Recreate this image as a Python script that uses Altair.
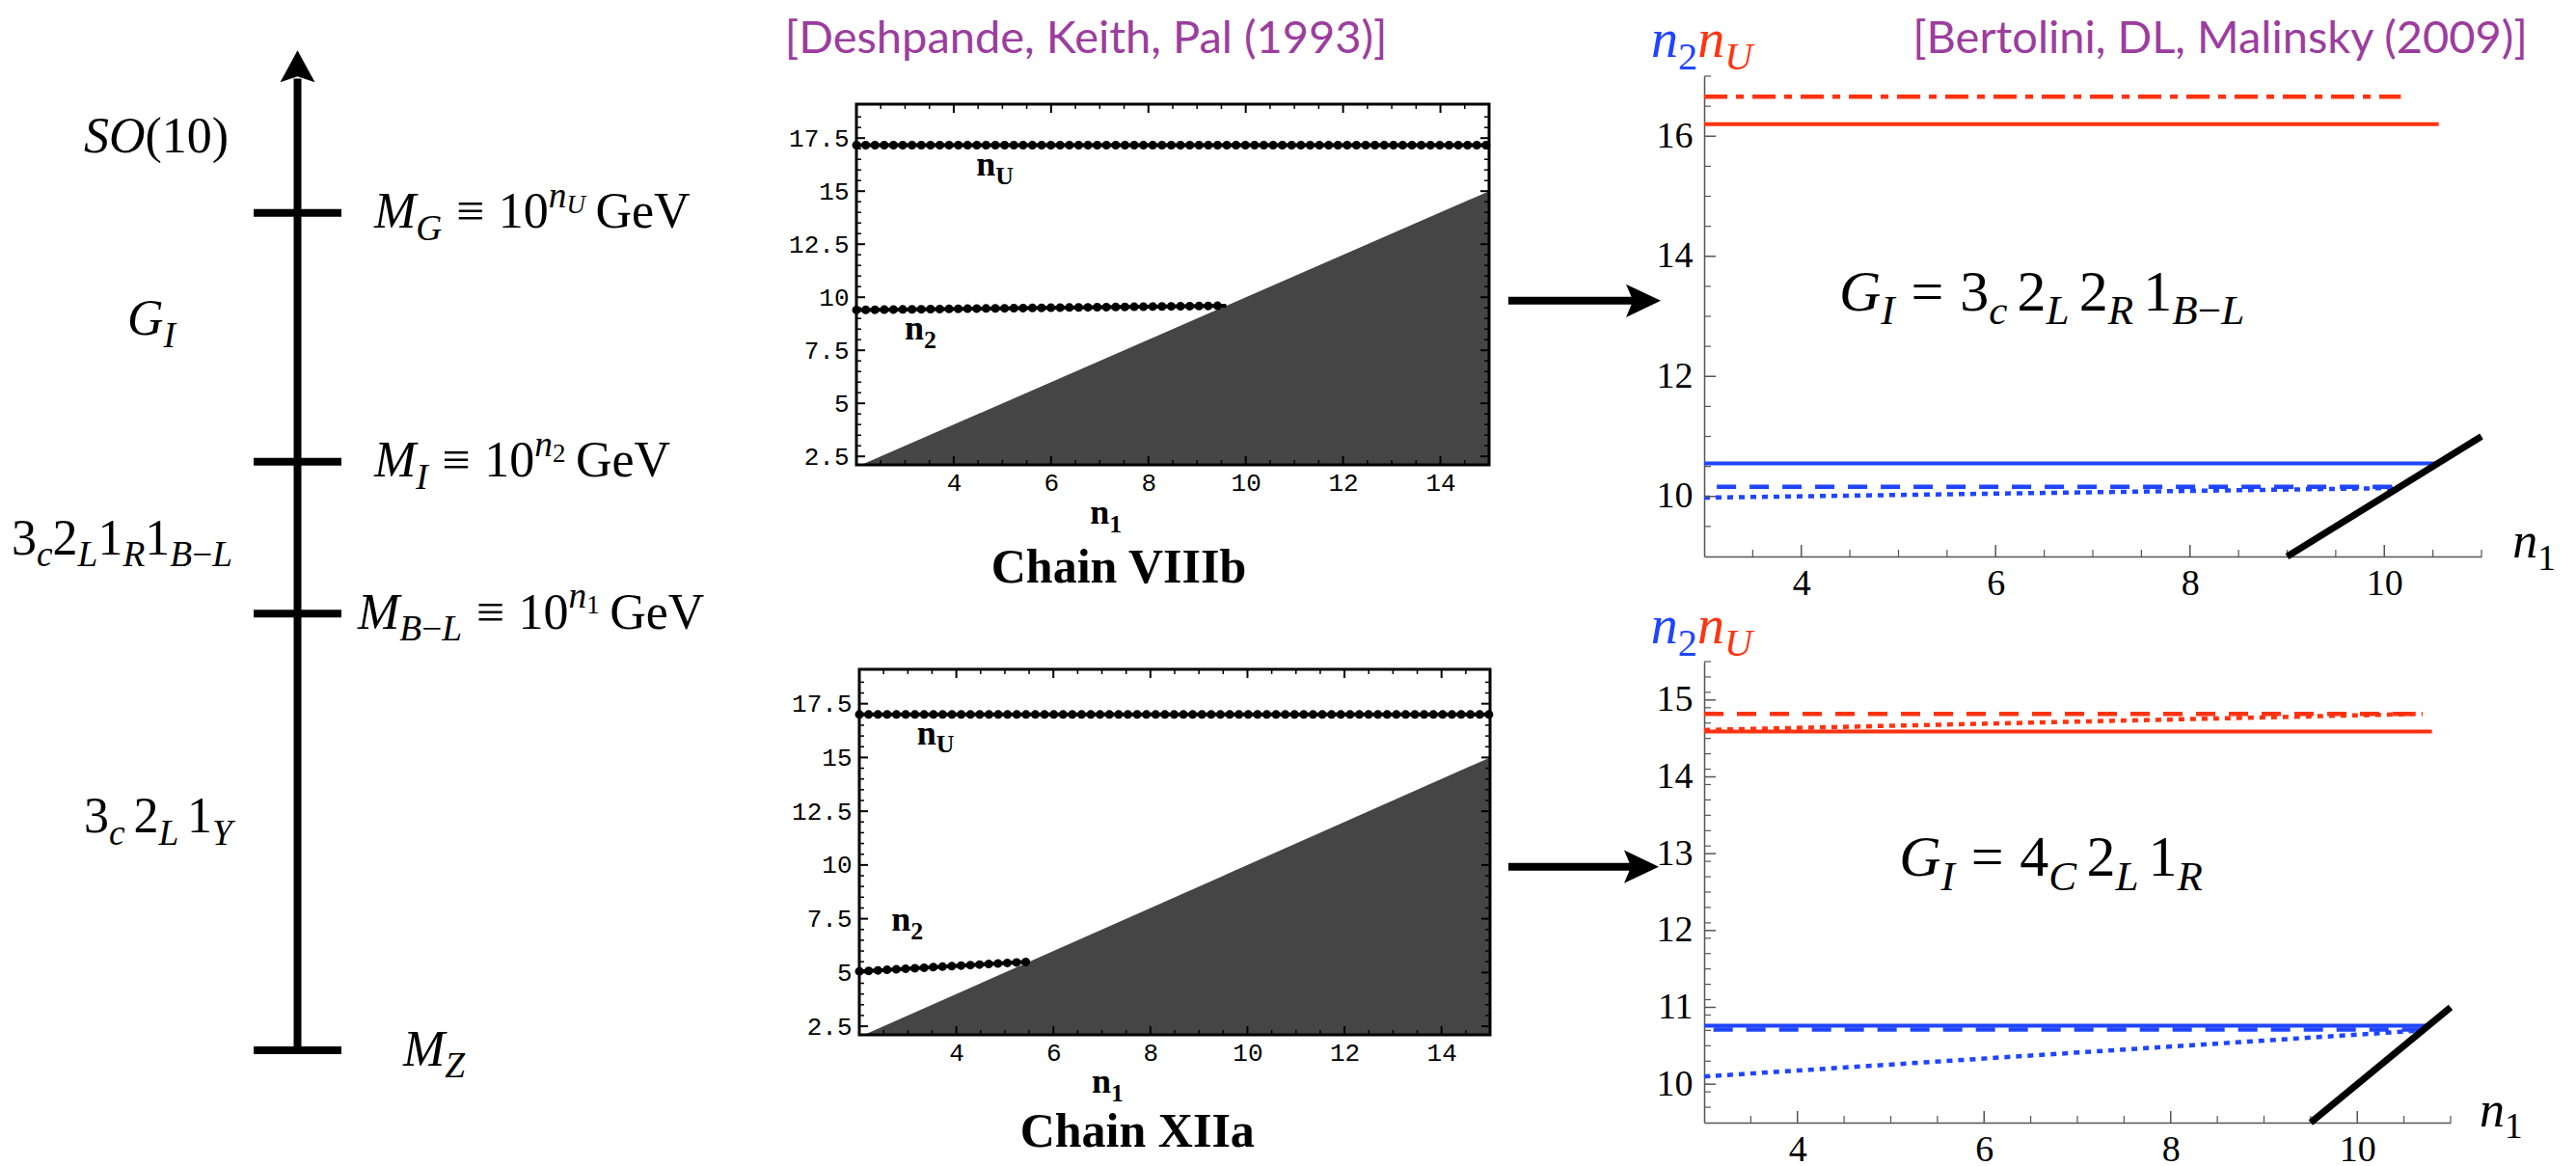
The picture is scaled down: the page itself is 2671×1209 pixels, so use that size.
import altair as alt
import pandas as pd

# ------------------------------------------------------------------ data
# Left schematic: positions on a schematic (log-energy) axis
sc_level_pos = [0.0, 4.0, 5.39, 7.67]          # M_Z, M_{B-L}, M_I, M_G
sc_level_label_x = [1.703, 1.187, 1.374, 1.374]
sc_arrow_top = 9.0
sc_region_pos = [2.13, 4.68, 6.69, 8.36]       # 3c2L1Y, 3c2L1R1B-L, G_I, SO(10)
sc_region_label_x = [-1.934, -2.758, -1.44, -1.934]

# Middle: Deshpande, Keith, Pal (1993)
dkp_xdom = [2.0, 15.0]
dkp_ydom = [2.1, 19.1]
dkp_boundary_x = [2.1, 15.0]
dkp_boundary_y = [2.1, 15.0]
viiib_nU_x = [2.0, 15.0]
viiib_nU_y = [17.17, 17.17]
viiib_n2_x = [2.0, 9.6]
viiib_n2_y = [9.4, 9.6]
xiia_nU_x = [2.0, 15.0]
xiia_nU_y = [17.0, 17.0]
xiia_n2_x = [2.0, 5.5]
xiia_n2_y = [5.05, 5.5]
dkp_yticks = [2.5, 5, 7.5, 10, 12.5, 15, 17.5]
dkp_xticks = [4, 6, 8, 10, 12, 14]

# Right: Bertolini, DL, Malinsky (2009)
rt_xdom, rt_ydom = [3, 11], [9, 17]
rt_nU_solid = ([3, 10.56], [16.20, 16.20])
rt_nU_dashdot = ([3, 10.17], [16.66, 16.66])
rt_n2_solid = ([3, 10.55], [10.55, 10.55])
rt_n2_dashed = ([3.13, 10.15], [10.16, 10.16])
rt_n2_dotted = ([3, 10.14], [9.98, 10.14])
rt_boundary = ([9, 11], [9, 11])
rt_yticks = [10, 12, 14, 16]
rt_xticks = [4, 6, 8, 10]

rb_xdom, rb_ydom = [3, 11], [9.5, 15.5]
rb_nU_solid = ([3, 10.8], [14.59, 14.59])
rb_nU_dashed = ([3, 10.72], [14.82, 14.82])
rb_nU_dotted = ([3, 10.7], [14.61, 14.82])
rb_n2_solid = ([3, 10.76], [10.76, 10.76])
rb_n2_dashed = ([3.1, 10.7], [10.71, 10.71])
rb_n2_dotted = ([3, 10.7], [10.10, 10.70])
rb_boundary = ([9.5, 11], [9.5, 11])
rb_yticks = [10, 11, 12, 13, 14, 15]
rb_xticks = [4, 6, 8, 10]

# ------------------------------------------------------------------ style
W, H = 2655, 1193
RED, BLUE, PURPLE = "#ff3311", "#1f45ff", "#9b3d9e"
SERIF, MONO, SANS = "Liberation Serif", "Liberation Mono", "Lato"


def S(dom, rng):
    return alt.Scale(domain=dom, range=rng, nice=False, zero=False)


P = {
    "SC": dict(x=S([0, 1], [255, 346]), y=S([0, 9], [1081, 62.2])),
    "MT": dict(x=S(dkp_xdom, [880, 1536]), y=S(dkp_ydom, [474, 100])),
    "MB": dict(x=S(dkp_xdom, [883, 1537]), y=S(dkp_ydom, [1065, 686])),
    "RT": dict(x=S(rt_xdom, [1759, 2565]), y=S(rt_ydom, [569, 71])),
    "RB": dict(x=S(rb_xdom, [1759, 2533]), y=S(rb_ydom, [1156, 678])),
}


def enc(panel, xaxis=None, yaxis=None, two=False):
    e = dict(x=alt.X("x:Q", scale=P[panel]["x"], axis=xaxis, title=None),
             y=alt.Y("y:Q", scale=P[panel]["y"], axis=yaxis, title=None))
    if two:
        e["x2"] = alt.X2("x2:Q")
        e["y2"] = alt.Y2("y2:Q")
    return e


def df(**c):
    return pd.DataFrame(c)


def line(panel, xy, color, width, dash=None, cap="butt"):
    kw = dict(color=color, strokeWidth=width, strokeCap=cap)
    if dash:
        kw["strokeDash"] = dash
    return alt.Chart(df(x=list(xy[0]), y=list(xy[1]))).mark_line(**kw).encode(**enc(panel))


def ticks(panel, vals, along, at, size, inward, color="black", thick=1.5, xaxis=None, yaxis=None):
    if along == "x":
        d = df(x=list(vals), y=[at] * len(vals))
        m = alt.Chart(d).mark_tick(orient="vertical", size=size, thickness=thick, color=color,
                                   opacity=1, yOffset=inward * size / 2)
    else:
        d = df(x=[at] * len(vals), y=list(vals))
        m = alt.Chart(d).mark_tick(orient="horizontal", size=size, thickness=thick, color=color,
                                   opacity=1, xOffset=inward * size / 2)
    return m.encode(**enc(panel, xaxis, yaxis))


W_RM = {" ": .25, "(": .333, ")": .333, "=": .564, "≡": .564, "−": .564,
        "G": .722, "e": .444, "V": .722}
W_RM.update({str(d): .5 for d in range(10)})
W_IT = {"M": .833, "G": .722, "I": .333, "S": .5, "O": .722, "n": .5, "U": .722, "L": .556,
        "R": .611, "B": .611, "Y": .556, "Z": .556, "c": .444, "C": .667}
W_BD = {"n": .556, "U": .722, "1": .5, "2": .5}
KIND = {
    "rm": (1.0, 0.0, "normal"),
    "it": (1.0, 0.0, "italic"),
    "sub": (0.72, 0.24, "italic"),
    "subrm": (0.72, 0.24, "normal"),
    "sup": (0.72, -0.42, "italic"),
    "supsub": (0.52, -0.30, "italic"),
    "supsubrm": (0.52, -0.30, "normal"),
}


def sp(em):
    return (None, "sp", em)


def mtext(panel, x, y, segs, F, color="black", weight="normal", base_dy=0.0):
    out, cx = [], 0.0
    for seg in segs:
        txt, kind = seg[0], seg[1]
        if kind == "sp":
            cx += seg[2] * F
            continue
        col = seg[2] if len(seg) > 2 else color
        fs, dyf, style = KIND[kind]
        tbl = W_BD if weight == "bold" else (W_IT if style == "italic" else W_RM)
        size = F * fs
        out.append(alt.Chart(df(x=[x], y=[y], t=[txt])).mark_text(
            align="left", baseline="alphabetic", dx=round(cx, 1), dy=round(base_dy + dyf * F, 1),
            font=SERIF, fontSize=round(size, 1), fontStyle=style, fontWeight=weight, color=col
        ).encode(text="t:N", **enc(panel)))
        cx += sum(tbl.get(ch, 0.5) for ch in txt) * size
    return out


def plain_text(panel, x, y, txt, size, font, color="black", weight="normal", baseline="alphabetic"):
    return alt.Chart(df(x=[x], y=[y], t=[txt])).mark_text(
        align="center", baseline=baseline, font=font, fontSize=size, fontWeight=weight, color=color
    ).encode(text="t:N", **enc(panel))


# ------------------------------------------------------------------ left schematic
F_SC = 52
sc_layers = [
    alt.Chart(df(x=[0.5], y=[0.0], y2=[sc_arrow_top - 0.1])).mark_rule(color="black", strokeWidth=8)
    .encode(x=alt.X("x:Q", scale=P["SC"]["x"], axis=None), y=alt.Y("y:Q", scale=P["SC"]["y"], axis=None),
            y2="y2:Q"),
    alt.Chart(df(x=[0.0] * 4, x2=[1.0] * 4, y=sc_level_pos)).mark_rule(color="black", strokeWidth=8)
    .encode(x=alt.X("x:Q", scale=P["SC"]["x"], axis=None), x2="x2:Q",
            y=alt.Y("y:Q", scale=P["SC"]["y"], axis=None)),
    alt.Chart(df(x=[0.5], y=[sc_arrow_top])).mark_point(
        shape="M0,-1L1,0.83L0,0.5L-1,0.83Z", size=1296, filled=True, color="black", opacity=1, strokeWidth=0
    ).encode(**enc("SC")),
]
level_labels = [
    [("M", "it"), ("Z", "sub")],
    [("M", "it"), ("B", "sub"), ("−", "subrm"), ("L", "sub"), sp(.28), ("≡", "rm"), sp(.28),
     ("10", "rm"), ("n", "sup"), ("1", "supsubrm"), sp(.2), ("GeV", "rm")],
    [("M", "it"), ("I", "sub"), sp(.28), ("≡", "rm"), sp(.28), ("10", "rm"), ("n", "sup"),
     ("2", "supsubrm"), sp(.2), ("GeV", "rm")],
    [("M", "it"), ("G", "sub"), sp(.28), ("≡", "rm"), sp(.28), ("10", "rm"), ("n", "sup"),
     ("U", "supsub"), sp(.2), ("GeV", "rm")],
]
region_labels = [
    [("3", "rm"), ("c", "sub"), sp(.17), ("2", "rm"), ("L", "sub"), sp(.17), ("1", "rm"), ("Y", "sub")],
    [("3", "rm"), ("c", "sub"), ("2", "rm"), ("L", "sub"), ("1", "rm"), ("R", "sub"), ("1", "rm"),
     ("B", "sub"), ("−", "subrm"), ("L", "sub")],
    [("G", "it"), ("I", "sub")],
    [("SO", "it"), ("(10)", "rm")],
]
for lx, ly, segs in zip(sc_level_label_x, sc_level_pos, level_labels):
    sc_layers += mtext("SC", lx, ly, segs, F_SC, base_dy=0.3 * F_SC)
for lx, ly, segs in zip(sc_region_label_x, sc_region_pos, region_labels):
    sc_layers += mtext("SC", lx, ly, segs, F_SC, base_dy=0.3 * F_SC)

# ------------------------------------------------------------------ middle panels
dkp_xminor = [2 + 0.5 * i for i in range(1, 26) if (2 + 0.5 * i) not in dkp_xticks]
dkp_yminor = [2.5 + 0.5 * i for i in range(1, 33) if (2.5 + 0.5 * i) not in dkp_yticks]


def dkp_panel(pn, nU, n2, xaxis_off, yaxis_off, lab_nU, lab_n2, lab_n1, chain, chain_xy, title=None):
    yaxis = alt.Axis(orient="left", offset=yaxis_off, values=dkp_yticks, format=".3~g", labelFont=MONO,
                     labelFontSize=26, labelColor="black", labelPadding=8, ticks=False, tickSize=0,
                     domain=False, grid=False)
    xaxis = alt.Axis(orient="bottom", offset=xaxis_off, values=dkp_xticks, format="d", labelFont=MONO,
                     labelFontSize=26, labelColor="black", labelPadding=5, ticks=False, tickSize=0,
                     domain=False, grid=False)
    L = [
        alt.Chart(df(x=dkp_boundary_x, y=dkp_boundary_y, y2=[dkp_ydom[0]] * 2))
        .mark_area(color="#454545", opacity=1)
        .encode(x=alt.X("x:Q", scale=P[pn]["x"], axis=None), y=alt.Y("y:Q", scale=P[pn]["y"], axis=None),
                y2="y2:Q"),
    ]
    for xy in (nU, n2):
        L.append(line(pn, xy, "black", 4))
        L.append(line(pn, xy, "black", 9, dash=[0.1, 9.5], cap="round"))
    L.append(ticks(pn, dkp_yticks, "y", dkp_xdom[0], 9, 1, thick=2))
    L.append(ticks(pn, dkp_yminor, "y", dkp_xdom[0], 5, 1, thick=1.5))
    L.append(ticks(pn, dkp_yticks, "y", dkp_xdom[1], 9, -1, thick=2))
    L.append(ticks(pn, dkp_yminor, "y", dkp_xdom[1], 5, -1, thick=1.5))
    L.append(ticks(pn, dkp_xticks, "x", dkp_ydom[0], 9, -1, thick=2))
    L.append(ticks(pn, dkp_xminor, "x", dkp_ydom[0], 5, -1, thick=1.5))
    L.append(ticks(pn, dkp_xticks, "x", dkp_ydom[1], 9, 1, thick=2))
    L.append(ticks(pn, dkp_xminor, "x", dkp_ydom[1], 5, 1, thick=1.5))
    L += mtext(pn, lab_nU[0], lab_nU[1], [("n", "rm"), ("U", "subrm")], 36, weight="bold")
    L += mtext(pn, lab_n2[0], lab_n2[1], [("n", "rm"), ("2", "subrm")], 36, weight="bold")
    L += mtext(pn, lab_n1[0], lab_n1[1], [("n", "rm"), ("1", "subrm")], 36, weight="bold")
    L.append(plain_text(pn, chain_xy[0], chain_xy[1], chain, 50, SERIF, weight="bold"))
    if title:
        L.append(plain_text(pn, title[0], title[1], title[2], 47, SANS, color=PURPLE, baseline="middle"))
    # frame carrying the axes (kept at the top level of the layer)
    frame = (alt.Chart(df(x=[dkp_xdom[0]], x2=[dkp_xdom[1]], y=[dkp_ydom[0]], y2=[dkp_ydom[1]]))
             .mark_rect(fillOpacity=0, stroke="black", strokeWidth=3)
             .encode(**enc(pn, xaxis, yaxis, two=True)))
    return L, [frame]


mt_layers, mt_axes = dkp_panel("MT", (viiib_nU_x, viiib_nU_y), (viiib_n2_x, viiib_n2_y), 474 - H, -880,
                               (4.46, 15.74), (2.99, 8.01), (6.8, -0.67), "Chain VIIIb", (7.39, -3.45),
                               title=(6.72, 22.15, "[Deshpande, Keith, Pal (1993)]"))
mb_layers, mb_axes = dkp_panel("MB", (xiia_nU_x, xiia_nU_y), (xiia_n2_x, xiia_n2_y), 1065 - H, -883,
                               (3.19, 15.62), (2.66, 6.93), (6.79, -0.59), "Chain XIIa", (7.73, -3.12))

# ------------------------------------------------------------------ right panels
DASH, DOT, DASHDOT = [20, 14], [6, 6], [24, 9, 8, 9]


def bdm_panel(pn, lines, boundary, yt, ymin_step, xt, xaxis_off, gi_segs, gi_xy, hdr_xy, n1_xy, arrow,
              title=None):
    ylo, yhi = P[pn]["y"].domain
    xlo, xhi = P[pn]["x"].domain
    yaxis = alt.Axis(orient="left", offset=-1759, values=yt, format="d", labelFont=SERIF, labelFontSize=38,
                     labelColor="black", labelPadding=12, ticks=False, tickSize=0, domain=True,
                     domainColor="#555", domainWidth=1.5, grid=False)
    xaxis = alt.Axis(orient="bottom", offset=xaxis_off, values=xt, format="d", labelFont=SERIF,
                     labelFontSize=38, labelColor="black", labelPadding=9, ticks=False, tickSize=0,
                     domain=True, domainColor="#555", domainWidth=1.5, grid=False)
    n_y = int(round((yhi - ylo) / ymin_step))
    yminor = [round(ylo + ymin_step * i, 2) for i in range(1, n_y + 1)]
    yminor = [v for v in yminor if v not in yt]
    xminor = [xlo + 0.5 * i for i in range(1, int((xhi - xlo) * 2) + 1)]
    xminor = [v for v in xminor if v not in xt]
    axes = [
        ticks(pn, yt, "y", xlo, 12, 1, color="#555", thick=1.5, yaxis=yaxis),
        ticks(pn, xt, "x", ylo, 12, -1, color="#555", thick=1.5, xaxis=xaxis),
    ]
    L = [
        ticks(pn, yminor, "y", xlo, 7, 1, color="#555", thick=1.2),
        ticks(pn, xminor, "x", ylo, 7, -1, color="#555", thick=1.2),
    ]
    for xy, col, dash, wdt in lines:
        L.append(line(pn, xy, col, wdt, dash=dash))
    L.append(line(pn, boundary, "black", 7))
    L += mtext(pn, gi_xy[0], gi_xy[1], gi_segs, 60)
    L += mtext(pn, hdr_xy[0], hdr_xy[1], [("n", "it", BLUE), ("2", "subrm", BLUE), ("n", "it", RED),
                                          ("U", "sub", RED)], 56, base_dy=0.3 * 56)
    L += mtext(pn, n1_xy[0], n1_xy[1], [("n", "it"), ("1", "subrm")], 52)
    ax0, ax1, ay = arrow
    L.append(alt.Chart(df(x=[ax0], x2=[ax1], y=[ay])).mark_rule(color="black", strokeWidth=8)
             .encode(x=alt.X("x:Q", scale=P[pn]["x"], axis=None), x2="x2:Q",
                     y=alt.Y("y:Q", scale=P[pn]["y"], axis=None)))
    L.append(alt.Chart(df(x=[ax1], y=[ay])).mark_point(
        shape="M1,0L-1,-0.95L-0.6,0L-1,0.95Z", size=1296, filled=True, color="black", opacity=1,
        strokeWidth=0).encode(**enc(pn)))
    if title:
        L.append(plain_text(pn, title[0], title[1], title[2], 47, SANS, color=PURPLE, baseline="middle"))
    return L, axes


gi_top = [("G", "it"), ("I", "sub"), sp(.28), ("=", "rm"), sp(.28), ("3", "rm"), ("c", "sub"), sp(.17),
          ("2", "rm"), ("L", "sub"), sp(.17), ("2", "rm"), ("R", "sub"), sp(.17), ("1", "rm"), ("B", "sub"),
          ("−", "subrm"), ("L", "sub")]
gi_bot = [("G", "it"), ("I", "sub"), sp(.28), ("=", "rm"), sp(.28), ("4", "rm"), ("C", "sub"), sp(.17),
          ("2", "rm"), ("L", "sub"), sp(.17), ("1", "rm"), ("R", "sub")]

rt_layers, rt_axes = bdm_panel(
    "RT",
    [(rt_nU_dashdot, RED, DASHDOT, 4.5), (rt_nU_solid, RED, None, 4), (rt_n2_solid, BLUE, None, 4),
     (rt_n2_dashed, BLUE, DASH, 4.5), (rt_n2_dotted, BLUE, DOT, 4.5)],
    rt_boundary, rt_yticks, 0.5, rt_xticks, 569 - H, gi_top, (4.39, 13.10), (2.454, 17.59),
    (11.32, 8.98), (0.985, 2.375, 13.26), title=(8.31, 17.61, "[Bertolini, DL, Malinsky (2009)]"))
rb_layers, rb_axes = bdm_panel(
    "RB",
    [(rb_nU_dashed, RED, DASH, 4.5), (rb_nU_dotted, RED, DOT, 4.5), (rb_nU_solid, RED, None, 4),
     (rb_n2_solid, BLUE, None, 4), (rb_n2_dashed, BLUE, DASH, 4.5), (rb_n2_dotted, BLUE, DOT, 4.5)],
    rb_boundary, rb_yticks, 0.2, rb_xticks, 1156 - H, gi_bot, (5.09, 12.71), (2.43, 15.95),
    (11.31, 9.45), (0.902, 2.328, 12.83))

chart = alt.layer(
    alt.layer(*sc_layers), alt.layer(*mt_layers), alt.layer(*mb_layers),
    alt.layer(*rt_layers), alt.layer(*rb_layers),
    *mt_axes, *mb_axes, *rt_axes, *rb_axes,
).resolve_scale(x="independent", y="independent").resolve_axis(
    x="independent", y="independent"
).properties(width=W, height=H, padding=0, background="white").configure_view(stroke=None)

chart.save("out.html", embed_options={"renderer": "svg", "actions": False})
